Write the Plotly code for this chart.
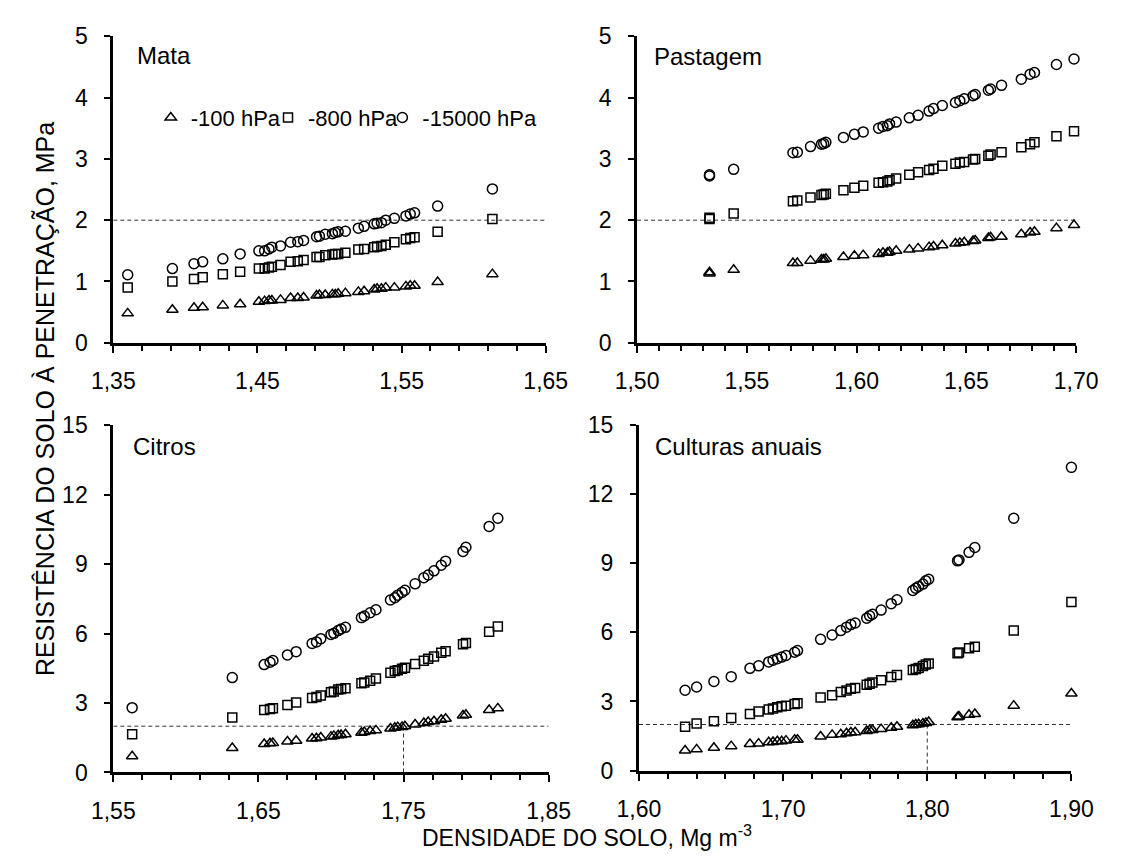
import plotly.graph_objects as go

# ---------------- data ----------------
mata_x = [1.360, 1.391, 1.406, 1.412, 1.426, 1.438, 1.451, 1.455, 1.458, 1.460, 1.466, 1.473, 1.478, 1.482,
          1.491, 1.493, 1.497, 1.502, 1.504, 1.506, 1.511, 1.520, 1.524, 1.531, 1.533, 1.536, 1.539, 1.545,
          1.553, 1.556, 1.559, 1.575, 1.613]
mata_100 = [0.48, 0.54, 0.57, 0.58, 0.61, 0.63, 0.67, 0.68, 0.69, 0.69, 0.70, 0.73, 0.73, 0.74, 0.77, 0.78,
            0.78, 0.79, 0.79, 0.80, 0.81, 0.83, 0.84, 0.87, 0.88, 0.88, 0.90, 0.90, 0.92, 0.93, 0.93, 0.99, 1.12]
mata_800 = [0.90, 1.00, 1.04, 1.07, 1.12, 1.16, 1.21, 1.21, 1.23, 1.24, 1.27, 1.32, 1.33, 1.35, 1.40, 1.40,
            1.43, 1.44, 1.45, 1.45, 1.47, 1.52, 1.53, 1.56, 1.57, 1.58, 1.60, 1.64, 1.69, 1.71, 1.72, 1.81, 2.02]
mata_15000 = [1.11, 1.21, 1.29, 1.32, 1.37, 1.45, 1.50, 1.50, 1.53, 1.56, 1.58, 1.64, 1.65, 1.67, 1.73, 1.74,
              1.77, 1.78, 1.80, 1.81, 1.82, 1.87, 1.90, 1.94, 1.95, 1.96, 2.00, 2.03, 2.07, 2.10, 2.12, 2.23, 2.51]

past_x = [1.533, 1.533, 1.544, 1.571, 1.573, 1.579, 1.584, 1.585, 1.586, 1.594, 1.599, 1.603, 1.610, 1.612,
          1.614, 1.615, 1.618, 1.624, 1.628, 1.633, 1.635, 1.639, 1.645, 1.647, 1.649, 1.653, 1.654, 1.660,
          1.661, 1.666, 1.675, 1.679, 1.681, 1.691, 1.699]
past_100 = [1.13, 1.15, 1.19, 1.30, 1.30, 1.34, 1.36, 1.36, 1.37, 1.40, 1.42, 1.43, 1.45, 1.47, 1.47, 1.48,
            1.50, 1.52, 1.54, 1.56, 1.57, 1.59, 1.62, 1.63, 1.64, 1.66, 1.67, 1.71, 1.72, 1.73, 1.77, 1.80,
            1.81, 1.87, 1.92]
past_800 = [2.02, 2.04, 2.11, 2.31, 2.32, 2.37, 2.41, 2.42, 2.43, 2.49, 2.53, 2.56, 2.61, 2.62, 2.63, 2.65,
            2.68, 2.74, 2.78, 2.82, 2.84, 2.89, 2.92, 2.94, 2.95, 2.99, 3.00, 3.05, 3.07, 3.11, 3.19, 3.24,
            3.27, 3.37, 3.45]
past_15000 = [2.72, 2.74, 2.83, 3.10, 3.11, 3.20, 3.24, 3.25, 3.27, 3.35, 3.40, 3.44, 3.50, 3.53, 3.54, 3.57,
              3.60, 3.67, 3.71, 3.78, 3.82, 3.87, 3.92, 3.95, 3.98, 4.03, 4.05, 4.12, 4.14, 4.20, 4.30, 4.38,
              4.41, 4.54, 4.63]

citr_x = [1.563, 1.632, 1.654, 1.658, 1.660, 1.670, 1.676, 1.687, 1.690, 1.693, 1.700, 1.702, 1.705, 1.707,
          1.710, 1.721, 1.723, 1.727, 1.731, 1.741, 1.744, 1.746, 1.749, 1.751, 1.758, 1.764, 1.767, 1.771,
          1.776, 1.779, 1.791, 1.793, 1.809, 1.815]
citr_100 = [0.70, 1.06, 1.23, 1.26, 1.27, 1.34, 1.37, 1.47, 1.48, 1.51, 1.55, 1.58, 1.61, 1.62, 1.65, 1.72,
            1.75, 1.79, 1.82, 1.90, 1.93, 1.96, 1.97, 2.00, 2.07, 2.14, 2.18, 2.21, 2.28, 2.32, 2.46, 2.49,
            2.70, 2.77]
citr_800 = [1.65, 2.38, 2.70, 2.74, 2.77, 2.91, 3.02, 3.22, 3.26, 3.33, 3.47, 3.50, 3.58, 3.61, 3.64, 3.85,
            3.89, 3.96, 4.06, 4.31, 4.38, 4.42, 4.48, 4.52, 4.69, 4.83, 4.91, 5.01, 5.17, 5.24, 5.54, 5.59,
            6.08, 6.31]
citr_15000 = [2.80, 4.10, 4.66, 4.76, 4.84, 5.08, 5.22, 5.57, 5.64, 5.78, 5.96, 6.01, 6.13, 6.20, 6.27, 6.69,
              6.76, 6.90, 7.03, 7.45, 7.55, 7.66, 7.78, 7.87, 8.15, 8.41, 8.53, 8.71, 8.95, 9.13, 9.55, 9.73,
              10.63, 10.98]

cult_x = [1.632, 1.640, 1.652, 1.664, 1.677, 1.683, 1.690, 1.693, 1.696, 1.699, 1.702, 1.708, 1.710, 1.726,
          1.734, 1.740, 1.744, 1.747, 1.750, 1.758, 1.760, 1.762, 1.768, 1.775, 1.779, 1.790, 1.792, 1.794,
          1.797, 1.799, 1.801, 1.821, 1.822, 1.829, 1.833, 1.860, 1.900]
cult_100 = [0.87, 0.92, 0.99, 1.06, 1.15, 1.17, 1.23, 1.24, 1.27, 1.27, 1.30, 1.34, 1.34, 1.48, 1.55, 1.58,
            1.62, 1.65, 1.66, 1.72, 1.76, 1.76, 1.80, 1.86, 1.90, 1.97, 2.00, 2.01, 2.04, 2.07, 2.11, 2.32,
            2.35, 2.42, 2.46, 2.82, 3.35]
cult_800 = [1.90, 2.04, 2.14, 2.28, 2.46, 2.56, 2.65, 2.70, 2.75, 2.79, 2.82, 2.89, 2.92, 3.17, 3.27, 3.41,
            3.48, 3.55, 3.59, 3.73, 3.77, 3.83, 3.92, 4.06, 4.15, 4.37, 4.41, 4.46, 4.54, 4.61, 4.65, 5.10,
            5.13, 5.31, 5.38, 6.08, 7.32]
cult_15000 = [3.49, 3.63, 3.87, 4.08, 4.44, 4.55, 4.72, 4.79, 4.86, 4.93, 5.00, 5.14, 5.21, 5.70, 5.89, 6.08,
              6.23, 6.34, 6.41, 6.62, 6.72, 6.79, 6.97, 7.25, 7.42, 7.82, 7.92, 8.00, 8.10, 8.24, 8.31, 9.11,
              9.15, 9.48, 9.69, 10.96, 13.17]

series_names = ["-100 hPa", "-800 hPa", "-15000 hPa"]
panel_titles = ["Mata", "Pastagem", "Citros", "Culturas anuais"]
limit_value = 2.0                      # critical resistance, MPa
density_marks = [None, None, 1.75, 1.80]  # vertical guides

x_ranges = [[1.35, 1.65], [1.50, 1.70], [1.55, 1.85], [1.60, 1.90]]
x_dticks = [0.10, 0.05, 0.10, 0.10]
x_minor = [0.02, 0.01, 0.02, 0.02]
y_ranges = [[0, 5], [0, 5], [0, 15], [0, 15]]
y_dticks = [1, 1, 3, 3]

# ---------------- layout geometry (px) ----------------
W, H = 1128, 866
boxes = [  # left, right, top, bottom in px
    (95, 545, 24, 340),
    (640, 1097, 24, 340),
    (95, 548, 425, 783),
    (642, 1092, 425, 781),
]
legend_left = [134, 256, 375]   # px, one legend box per series
legend_mid_y = 108

panels = [
    (mata_x, mata_100, mata_800, mata_15000),
    (past_x, past_100, past_800, past_15000),
    (citr_x, citr_100, citr_800, citr_15000),
    (cult_x, cult_100, cult_800, cult_15000),
]

symbols = ["triangle-up-open", "square-open", "circle-open"]
sizes = [10, 9, 10]
FONT = "Liberation Sans, Arial, sans-serif"
legend_ids = ["legend", "legend2", "legend3"]

fig = go.Figure()
layout = dict(
    width=W, height=H, margin=dict(l=0, r=0, t=0, b=0),
    paper_bgcolor="white", plot_bgcolor="white",
    separators=",.",
    font=dict(family=FONT, size=23, color="black"),
    showlegend=True,
)
for k, lid in enumerate(legend_ids):
    layout[lid] = dict(orientation="h", x=legend_left[k] / W, y=1 - legend_mid_y / H,
                       xanchor="left", yanchor="middle", itemwidth=30,
                       font=dict(family=FONT, size=22, color="black"),
                       bgcolor="rgba(0,0,0,0)", borderwidth=0)
shapes = []
annotations = []

for i, (px, p100, p800, p15000) in enumerate(panels):
    n = i + 1
    xa = "x" if n == 1 else f"x{n}"
    ya = "y" if n == 1 else f"y{n}"
    l, r, t, b = boxes[i]
    for j, ys in enumerate([p100, p800, p15000]):
        fig.add_trace(go.Scatter(
            x=px, y=ys, mode="markers", name=series_names[j],
            xaxis=xa, yaxis=ya, cliponaxis=False,
            showlegend=(i == 0), legend=legend_ids[j],
            marker=dict(symbol=symbols[j], size=sizes[j], color="black", line=dict(width=1.5, color="black")),
        ))
    xkey = "xaxis" if n == 1 else f"xaxis{n}"
    ykey = "yaxis" if n == 1 else f"yaxis{n}"
    layout[xkey] = dict(
        domain=[l / W, r / W], anchor=ya, range=x_ranges[i], dtick=x_dticks[i], tick0=x_ranges[i][0],
        tickformat=".2f", showgrid=False, zeroline=False, showline=True, linewidth=3, linecolor="black",
        ticks="outside", ticklen=7, tickwidth=2, tickcolor="black", ticklabelstandoff=9,
        tickfont=dict(family=FONT, size=23, color="black"),
        minor=dict(dtick=x_minor[i], tick0=x_ranges[i][0], ticks="outside", ticklen=5, tickwidth=2,
                   tickcolor="black", showgrid=False),
        fixedrange=True,
    )
    layout[ykey] = dict(
        domain=[1 - b / H, 1 - t / H], anchor=xa, range=y_ranges[i], dtick=y_dticks[i], tick0=0,
        showgrid=False, zeroline=False, showline=True, linewidth=3, linecolor="black",
        ticks="outside", ticklen=6, tickwidth=2, tickcolor="black", ticklabelstandoff=12,
        tickfont=dict(family=FONT, size=23, color="black"),
        fixedrange=True,
    )
    shapes.append(dict(type="line", xref=xa, yref=ya, x0=x_ranges[i][0], x1=x_ranges[i][1],
                       y0=limit_value, y1=limit_value, layer="below",
                       line=dict(color="#333333", width=1, dash="4px,3px")))
    if density_marks[i] is not None:
        shapes.append(dict(type="line", xref=xa, yref=ya, x0=density_marks[i], x1=density_marks[i],
                           y0=0, y1=limit_value, layer="below",
                           line=dict(color="#333333", width=1, dash="4px,3px")))
    title_pos = [(118, 44), (656, 45), (113, 447), (657, 447)][i]
    annotations.append(dict(text=panel_titles[i], xref="paper", yref="paper",
                            x=title_pos[0] / W, y=1 - title_pos[1] / H, xanchor="left", yanchor="middle",
                            showarrow=False, font=dict(family=FONT, size=24, color="black")))

annotations.append(dict(text="RESISTÊNCIA DO SOLO À PENETRAÇÃO, MPa", xref="paper", yref="paper",
                        x=24 / W, y=1 - 398 / H, xanchor="center", yanchor="middle", textangle=-90,
                        showarrow=False, font=dict(family=FONT, size=25, color="black")))
annotations.append(dict(text="DENSIDADE DO SOLO, Mg m<sup>-3</sup>", xref="paper", yref="paper",
                        x=588 / W, y=0, xanchor="center", yanchor="bottom",
                        showarrow=False, font=dict(family=FONT, size=23, color="black")))

layout["shapes"] = shapes
layout["annotations"] = annotations
fig.update_layout(**layout)
fig.write_html("out.html", config={"displayModeBar": False})
